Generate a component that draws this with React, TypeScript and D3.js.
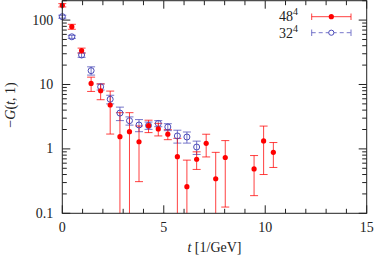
import React from 'react';
import * as d3 from 'd3';

// t values (1/GeV) of the lattice time slices
const tValues = [0, 0.47, 0.95, 1.42, 1.89, 2.36, 2.84, 3.31, 3.78, 4.25, 4.73, 5.2, 5.67, 6.14, 6.62, 7.09, 7.56, 8.03, 9.45, 9.92, 10.4];

// 48^4 lattice
const t48 = tValues;
const g48 = [170, 79, 33.7, 10.4, 8.0, 4.8, 1.55, 1.85, 1.29, 2.29, 2.04, 1.69, 0.757, 0.259, 0.69, 1.22, 0.344, 0.735, 0.488, 1.33, 0.885];
const e48 = [10, 7, 3, 2.6, 2.2, 3.1, 2.1, 1.8, 0.98, 0.5, 0.45, 0.3, 0.7, 0.41, 0.21, 0.47, 0.54, 0.61, 0.3, 0.93, 0.37];

// 32^4 lattice
const t32 = tValues.slice(0, 15);
const g32 = [113, 55, 28.7, 16.4, 9.2, 5.9, 3.6, 2.74, 2.35, 2.31, 2.48, 2.19, 1.59, 1.53, 1.07];
const e32 = [6, 3, 2.3, 2.4, 1.0, 0.9, 0.85, 0.4, 0.5, 0.3, 0.27, 0.27, 0.36, 0.3, 0.25];

const xTicks = [0, 5, 10, 15];
const yTicks = [0.1, 1, 10, 100];
const yTickLabels = ['0.1', '1', '10', '100'];

const W = 374;
const H = 260;
const margin = { left: 62.3, right: 7.3, top: 0.7, bottom: 46.7 };
const font = 'Liberation Serif, DejaVu Serif, serif';
const red = '#ff0000';
const blue = '#4a4ab8';
const ink = '#222';

export default function App() {
  const x = d3.scaleLinear().domain([0, 15]).range([margin.left, W - margin.right]);
  const y = d3.scaleLog().domain([0.1, 200]).range([H - margin.bottom, margin.top]);
  const [x0, x1] = x.range();
  const [yb, yt] = y.range();

  const minorX = d3.range(0, 16);
  const minorY: number[] = [];
  for (const dec of [0.1, 1, 10, 100]) {
    for (let m = 2; m <= 9; m++) {
      const v = dec * m;
      if (v <= 200) minorY.push(v);
    }
  }

  const capW = 4;
  const yc = (v: number) => (v <= 0.1 ? yb + 5 : y(v));

  const errBars = (ts: number[], vs: number[], es: number[], color: string, key: string) =>
    ts.map((t, i) => {
      const lo = vs[i] - es[i];
      const hi = vs[i] + es[i];
      const cx = x(t);
      return (
        <g key={key + i} stroke={color} strokeWidth={1} strokeOpacity={0.75}>
          <line x1={cx} x2={cx} y1={yc(lo)} y2={y(hi)} />
          <line x1={cx - capW} x2={cx + capW} y1={y(hi)} y2={y(hi)} />
          {lo > 0.1 && <line x1={cx - capW} x2={cx + capW} y1={y(lo)} y2={y(lo)} />}
        </g>
      );
    });

  return (
    <svg width={W} height={H} style={{ position: 'absolute', left: 0, top: 0, fontFamily: font }}>
      <defs>
        <clipPath id="plotArea">
          <rect x={0} y={yt} width={W} height={yb - yt} />
        </clipPath>
      </defs>

      <g clipPath="url(#plotArea)">
        {errBars(t32, g32, e32, blue, 'b')}
        {errBars(t48, g48, e48, red, 'r')}
      </g>
      {t32.map((t, i) => (
        <circle key={'bc' + i} cx={x(t)} cy={y(g32[i])} r={3} fill="none" stroke={blue} strokeWidth={1} />
      ))}
      {t48.map((t, i) => (
        <circle key={'rc' + i} cx={x(t)} cy={y(g48[i])} r={2.6} fill={red} />
      ))}

      {/* ticks */}
      <g stroke={ink} strokeWidth={1}>
        {minorX.map(v => {
          const len = xTicks.includes(v) ? 8 : 4.5;
          return (
            <g key={'xt' + v}>
              <line x1={x(v)} x2={x(v)} y1={yb} y2={yb - len} />
              <line x1={x(v)} x2={x(v)} y1={yt} y2={yt + len} />
            </g>
          );
        })}
        {yTicks.map(v => (
          <g key={'yt' + v}>
            <line x1={x0} x2={x0 + 8} y1={y(v)} y2={y(v)} />
            <line x1={x1} x2={x1 - 8} y1={y(v)} y2={y(v)} />
          </g>
        ))}
        {minorY.map(v => (
          <g key={'ym' + v}>
            <line x1={x0} x2={x0 + 4.5} y1={y(v)} y2={y(v)} />
            <line x1={x1} x2={x1 - 4.5} y1={y(v)} y2={y(v)} />
          </g>
        ))}
        <rect x={x0} y={yt} width={x1 - x0} height={yb - yt} fill="none" />
      </g>

      {/* tick labels */}
      <g fontSize={14} fill={ink}>
        {xTicks.map(v => (
          <text key={'xl' + v} x={x(v)} y={yb + 19} textAnchor="middle">{v}</text>
        ))}
        {yTicks.map((v, i) => (
          <text key={'yl' + v} x={x0 - 9} y={y(v) + 4.5} textAnchor="end">{yTickLabels[i]}</text>
        ))}
      </g>

      {/* axis titles */}
      <text x={(x0 + x1) / 2} y={252} textAnchor="middle" fontSize={14} fill={ink}>
        <tspan fontStyle="italic">t</tspan> [1/GeV]
      </text>
      <text transform="translate(15,105) rotate(-90)" textAnchor="middle" fontSize={14} fill={ink}>
        −<tspan fontStyle="italic">G</tspan>(<tspan fontStyle="italic">t</tspan>, 1)
      </text>

      {/* legend */}
      <g fontSize={14} fill={ink}>
        <text x={298} y={21} textAnchor="end">48<tspan fontSize={10} dy={-6}>4</tspan></text>
        <text x={298} y={38} textAnchor="end">32<tspan fontSize={10} dy={-6}>4</tspan></text>
      </g>
      <g stroke={red} strokeOpacity={0.75}>
        <line x1={311.7} x2={351} y1={16.7} y2={16.7} />
        <line x1={311.7} x2={311.7} y1={13.5} y2={20} />
        <line x1={351} x2={351} y1={13.5} y2={20} />
      </g>
      <circle cx={331.3} cy={16.7} r={2.6} fill={red} />
      <g stroke={blue} strokeOpacity={0.75}>
        <line x1={311.7} x2={351} y1={32.7} y2={32.7} strokeDasharray="4,3" />
        <line x1={311.7} x2={311.7} y1={29.5} y2={36} />
        <line x1={351} x2={351} y1={29.5} y2={36} />
      </g>
      <circle cx={331.3} cy={32.7} r={2.6} fill="white" stroke={blue} />
    </svg>
  );
}
